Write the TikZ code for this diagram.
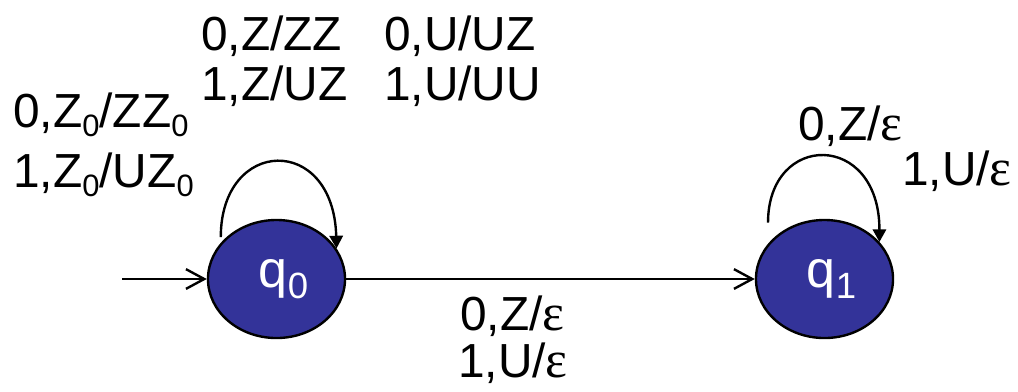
\documentclass[tikz,border=0pt]{standalone}
\usepackage{fontspec}
\setmainfont{Liberation Sans}
\newfontfamily\greekfont{Liberation Serif}
\usepackage{xcolor}
\usepackage{tikz}
\usetikzlibrary{arrows.meta,shapes.geometric}
\definecolor{statefill}{RGB}{51,51,153}
\newcommand{\zsub}[1]{\raisebox{-7pt}{\fontsize{22}{22}\selectfont #1}}
\newcommand{\qsub}[1]{\raisebox{-8pt}{\fontsize{26}{26}\selectfont #1}}
\newcommand{\epsi}{{\greekfont\fontsize{37}{40}\selectfont ε}}

\begin{document}
\begin{tikzpicture}[x=0.025cm, y=-0.025cm, line join=round,
  pdastate/.style={ellipse, draw=black, line width=1.7pt, fill=statefill, inner sep=0pt,
    minimum width=3.425cm, minimum height=2.95cm, text=white, font=\fontsize{37}{40}\selectfont},
  move/.style={line width=1.7pt, -{Straight Barb[length=13pt,width=14pt]}},
  loopmove/.style={line width=1.7pt, -{Triangle[length=9pt,width=9.5pt]}},
  lbl/.style={anchor=base west, inner sep=0pt, font=\fontsize{34}{40}\selectfont}]
  \useasboundingbox (0,0) rectangle (1018,391);
  \node[pdastate] (q0) at (276.5,279) {\hspace{10pt}q\qsub{0}};
  \node[pdastate] (q1) at (824.5,279) {\hspace{10pt}q\qsub{1}};
  \coordinate (start) at (122,279);
  \draw[move] (start) -- (q0);
  \draw[move] (q0) -- (q1);
  \draw[loopmove] ([yshift=4pt]q0.147) .. controls +(0,-100) and +(-3,-115) .. (q0.27);
  \draw[loopmove] ([yshift=15pt]q1.148) .. controls +(0,-91) and +(0,-111) .. (q1.34);
  \node[lbl] (lz0a) at (13,127) {0,Z\zsub{0}/ZZ\zsub{0}};
  \node[lbl] (lz0b) at (13,187) {1,Z\zsub{0}/UZ\zsub{0}};
  \node[lbl] (lza) at (201,50) {0,Z/ZZ};
  \node[lbl] (lzb) at (201,100) {1,Z/UZ};
  \node[lbl] (lua) at (384,50) {0,U/UZ};
  \node[lbl] (lub) at (384,100) {1,U/UU};
  \node[lbl] (lpopa) at (460,330) {0,Z/\epsi};
  \node[lbl] (lpopb) at (458,377) {1,U/\epsi};
  \node[lbl] (lfina) at (798,140) {0,Z/\epsi};
  \node[lbl] (lfinb) at (902,185) {1,U/\epsi};
\end{tikzpicture}
\end{document}
